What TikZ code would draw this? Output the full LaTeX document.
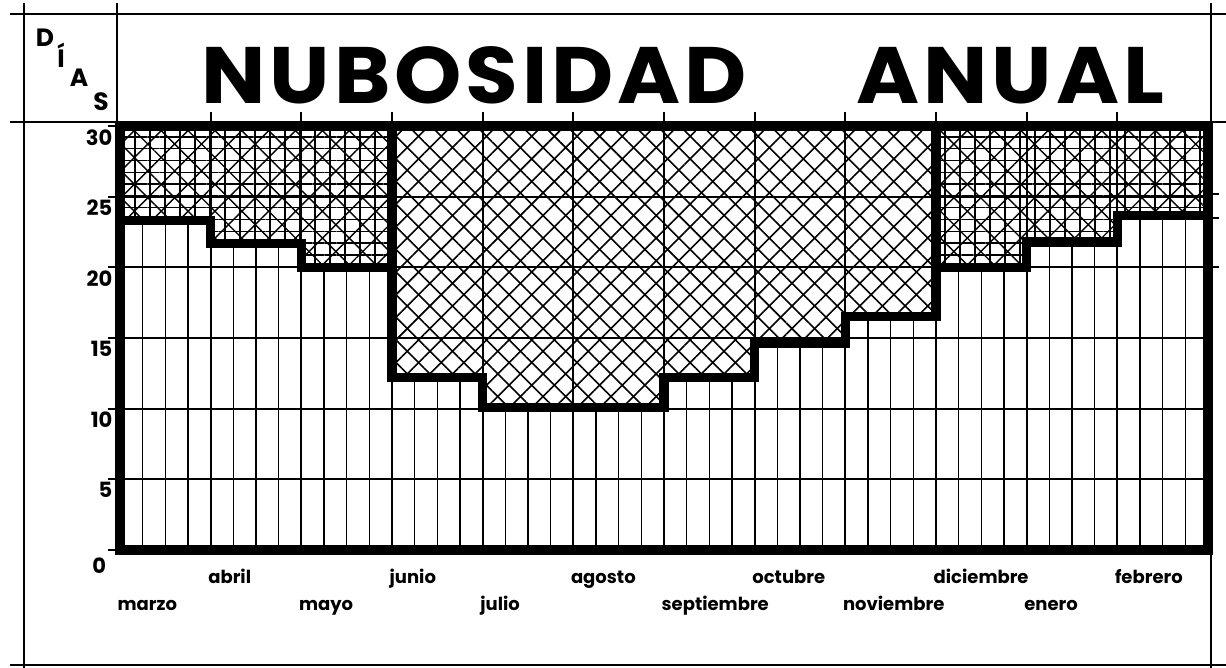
\documentclass[tikz,border=0pt]{standalone}
\usepackage{fontspec}
\setmainfont{Poppins}
\newfontfamily\titlefont{Poppins}[LetterSpace=5,FakeStretch=1.07]
\usetikzlibrary{patterns.meta}

\tikzset{
  frame/.style={line width=1.4pt},
  outline/.style={line width=4.6pt},
  grid/.style={line width=0.9pt},
  clear/.style={line width=0.7pt},
  crossA/.style={pattern={Lines[angle=45,distance=8pt,line width=0.8pt]},
    postaction={pattern={Lines[angle=-45,distance=8pt,line width=0.8pt]}}},
  crossB/.style={pattern={Lines[angle=45,distance=9.5pt,line width=0.7pt]},
    postaction={pattern={Lines[angle=-45,distance=9.5pt,line width=0.7pt]}},
    postaction={pattern={Lines[angle=0,distance=5.9pt,line width=0.7pt]}},
    postaction={pattern={Lines[angle=90,distance=7.5pt,line width=0.7pt]}}},
  month/.style={font=\bfseries\fontsize{9}{10}\selectfont,anchor=base west,inner sep=0pt},
  daylab/.style={font=\bfseries\fontsize{10.5}{11}\selectfont,anchor=north east,inner sep=0pt},
  letter/.style={font=\bfseries\fontsize{12.5}{13}\selectfont,anchor=base,inner sep=0pt},
  title/.style={font=\titlefont\bfseries\fontsize{40}{44}\selectfont,anchor=base west,inner sep=0pt}
}

\begin{document}
\begin{tikzpicture}[x=0.5pt,y=-0.5pt]
  \useasboundingbox (0,0) rectangle (1226,668);
  \fill[white] (0,0) rectangle (1226,668);

  % frame of the sheet
  \draw[frame] (10,14) -- (1226,14);
  \draw[frame] (10,122) -- (1226,122);
  \draw[frame] (10,665) -- (1226,665);
  \draw[frame] (24,3) -- (24,668);
  \draw[frame] (117,3) -- (117,122);
  \draw[frame] (1211,3) -- (1211,668);

  % title
  \node[title] (nub) at (201,104) {NUBOSIDAD};
  \node[title] (anu) at (856,104) {ANUAL};

  \node[letter] (lD) at (45,47)  {D};
  \node[letter] (lI) at (61,68)  {Í};
  \node[letter] (lA) at (79,87)  {A};
  \node[letter] (lS) at (101,111) {S};

  % chart: x in months, y in days
  \begin{scope}[shift={(120,550)},x=45.333pt,y=7.065pt]
    % cloudy part
    \foreach \i/\v in {0/23.3,1/21.7,2/20,9/20,10/21.8,11/23.7}
      \path[crossB] (\i,\v) rectangle (\i+1,30);
    \foreach \i/\v in {3/12.2,4/10.1,5/10.1,6/12.2,7/14.6,8/16.5}
      \path[crossA] (\i,\v) rectangle (\i+1,30);

    % clear part
    \foreach \i/\v in {0/23.3,1/21.7,2/20,3/12.2,4/10.1,5/10.1,
                       6/12.2,7/14.6,8/16.5,9/20,10/21.8,11/23.7}
      \foreach \q in {0.25,0.5,0.75}
        \draw[clear] (\i+\q,0) -- (\i+\q,\v);

    % grid
    \foreach \g in {5,10,...,25}
      \draw[grid] (0,\g) -- (12,\g);
    \foreach \c in {1,...,11}
      \draw[grid] (\c,0) -- (\c,31);
    \foreach \g in {0,5,...,30}
      \draw[grid] (-0.13,\g) -- (0,\g);
    \foreach \t in {25.2,23.5,20}
      \draw[grid] (12,\t) -- (12.12,\t);

    % thick lines
    \draw[outline] (0,0) rectangle (12,30);
    \draw[outline,line join=miter]
      (0,23.3) -| (1,21.7) -| (2,20) -| (3,12.2) -| (4,10.1) -| (6,12.2)
      -| (7,14.6) -| (8,16.5) -| (9,20) -| (10,21.8) -| (11,23.7) -- (12,23.7);
    \draw[outline] (3,30) -- (3,20);
    \draw[outline] (9,30) -- (9,16.5);

    % days
    \foreach \g in {5,10,...,30}
      \node[daylab] (n\g) at (-0.08,\g-0.2) {\g};
    \node[daylab] (n0) at (-0.15,-0.55) {0};

    % months
    \foreach \m [count=\i from 0] in {marzo,abril,mayo,junio,julio,agosto,
        septiembre,octubre,noviembre,diciembre,enero,febrero} {
      \pgfmathsetmacro\row{mod(\i,2)==0 ? -4.25 : -2.35}
      \node[month] (m\i) at (\i-0.03,\row) {\m};
    }
  \end{scope}
\end{tikzpicture}
\end{document}
